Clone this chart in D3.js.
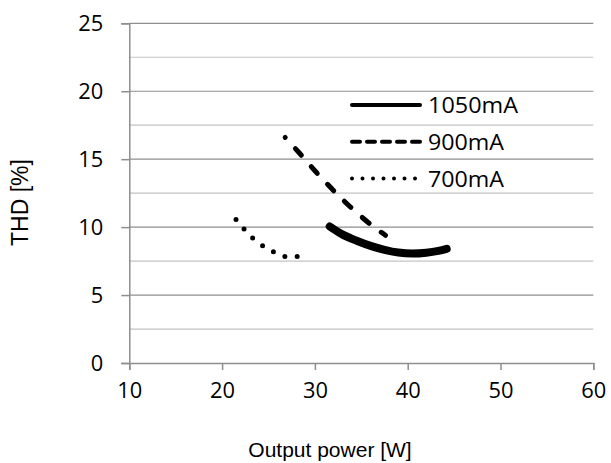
<!DOCTYPE html>
<html>
<head>
<meta charset="utf-8">
<script src="https://cdn.jsdelivr.net/npm/d3@7"></script>
<style>
    body { margin: 0; background: #fff; }
    svg { display: block; }
</style>
</head>
<body>
<div id="chart"></div>
<script>
const width = 611
const height = 463

// series values: [output power W, THD %]
const s1050 = [[31.6, 10.05], [33.0, 9.45], [34.5, 9.0], [36.0, 8.62], [37.5, 8.33],
    [39.0, 8.13], [40.5, 8.06], [42.0, 8.12], [43.3, 8.25], [44.2, 8.4]]
const s900 = [[26.8, 16.6], [28.4, 15.4], [30.2, 14.0], [32.0, 12.7], [33.8, 11.5],
    [36.0, 10.2], [37.6, 9.4]]
const s700 = [[21.5, 10.57], [22.3, 9.91], [22.7, 9.59], [23.9, 8.85], [25.2, 8.31],
    [26.5, 7.87], [27.9, 7.82], [29.2, 7.95]]

const seriesNames = ["1050mA", "900mA", "700mA"]
const xTicks = [10, 20, 30, 40, 50, 60]
const yTicks = [0, 5, 10, 15, 20, 25]
const yMinor = [2.5, 7.5, 12.5, 17.5, 22.5]

const x = d3.scaleLinear().domain([10, 60]).range([129.3, 593.3])
const y = d3.scaleLinear().domain([0, 25]).range([363, 23.3])

const styles = [
    { width: 8, dash: null, offset: 0, lw: 4, ldash: null },
    { width: 5, dash: "9,15", offset: 8.9, lw: 4, ldash: "8,7" },
    { width: 5, dash: "0,12.5", offset: 0, lw: 4, ldash: "0,10.5" }
]

const svg = d3.select("#chart").append("svg")
    .attr("width", width)
    .attr("height", height)

// gridlines
svg.append("g").selectAll("line")
    .data(yMinor)
    .enter().append("line")
    .attr("x1", x(10)).attr("x2", x(60))
    .attr("y1", d => y(d)).attr("y2", d => y(d))
    .attr("stroke", "#c4c4c4")
    .attr("stroke-width", 1.2)

svg.append("g").selectAll("line")
    .data(yTicks.filter(d => d > 0))
    .enter().append("line")
    .attr("x1", x(10)).attr("x2", x(60))
    .attr("y1", d => y(d)).attr("y2", d => y(d))
    .attr("stroke", "#8e8e8e")
    .attr("stroke-width", 1.2)

// digits in the picture are wider than the font, so stretch them a bit
const digitW = 12.5

// axes
const xAxis = svg.append("g")
    .attr("transform", `translate(0,${y(0)})`)
    .call(d3.axisBottom(x).tickValues(xTicks).tickSize(7).tickPadding(0))
xAxis.select(".domain").attr("stroke", "#8e8e8e").attr("stroke-width", 1.5)
xAxis.selectAll(".tick line").attr("stroke", "#8e8e8e").attr("stroke-width", 1.5)
xAxis.selectAll("text")
    .attr("y", 34.5)
    .attr("dy", null)
    .attr("fill", "#000")
    .attr("textLength", d => String(d).length * digitW)
    .attr("lengthAdjust", "spacingAndGlyphs")
    .style("font", "21px 'Open Sans'")

const yAxis = svg.append("g")
    .attr("transform", `translate(${x(10)},0)`)
    .call(d3.axisLeft(y).tickValues(yTicks).tickSize(8).tickPadding(0))
yAxis.select(".domain").attr("stroke", "#8e8e8e").attr("stroke-width", 1.5)
yAxis.selectAll(".tick line").attr("stroke", "#8e8e8e").attr("stroke-width", 1.5)
yAxis.selectAll("text")
    .attr("x", -26)
    .attr("dy", "0.36em")
    .attr("fill", "#000")
    .attr("textLength", d => String(d).length * digitW)
    .attr("lengthAdjust", "spacingAndGlyphs")
    .style("font", "21px 'Open Sans'")

// axis titles
svg.append("text")
    .attr("x", 330)
    .attr("y", 457)
    .attr("text-anchor", "middle")
    .style("font", "21px 'Liberation Sans', Arial")
    .text("Output power [W]")

svg.append("text")
    .attr("transform", "translate(28.3,202.5) rotate(-90)")
    .attr("text-anchor", "middle")
    .style("font", "23px 'Liberation Sans', Arial")
    .text("THD [%]")

// series
const line = d3.line()
    .x(d => x(d[0]))
    .y(d => y(d[1]))
    .curve(d3.curveCatmullRom)

const series = [s1050, s900, s700]

svg.append("g").selectAll("path")
    .data(series)
    .enter().append("path")
    .attr("d", line)
    .attr("fill", "none")
    .attr("stroke", "#000")
    .attr("stroke-width", (d, i) => styles[i].width)
    .attr("stroke-linecap", "round")
    .attr("stroke-linejoin", "round")
    .attr("stroke-dasharray", (d, i) => styles[i].dash)
    .attr("stroke-dashoffset", (d, i) => styles[i].offset)

// legend
const legendW = [90, 76, 76]
const legend = svg.append("g")
    .selectAll("g")
    .data(seriesNames)
    .enter().append("g")
    .attr("transform", (d, i) => `translate(350,${105 + i * 36.7})`)

legend.append("line")
    .attr("x1", 2).attr("x2", 70)
    .attr("stroke", "#000")
    .attr("stroke-width", (d, i) => styles[i].lw)
    .attr("stroke-linecap", "round")
    .attr("stroke-dasharray", (d, i) => styles[i].ldash)

legend.append("text")
    .attr("x", 78)
    .attr("dy", "0.37em")
    .attr("textLength", (d, i) => legendW[i])
    .attr("lengthAdjust", "spacingAndGlyphs")
    .style("font", "22.5px 'Open Sans'")
    .text(d => d)
</script>
</body>
</html>
